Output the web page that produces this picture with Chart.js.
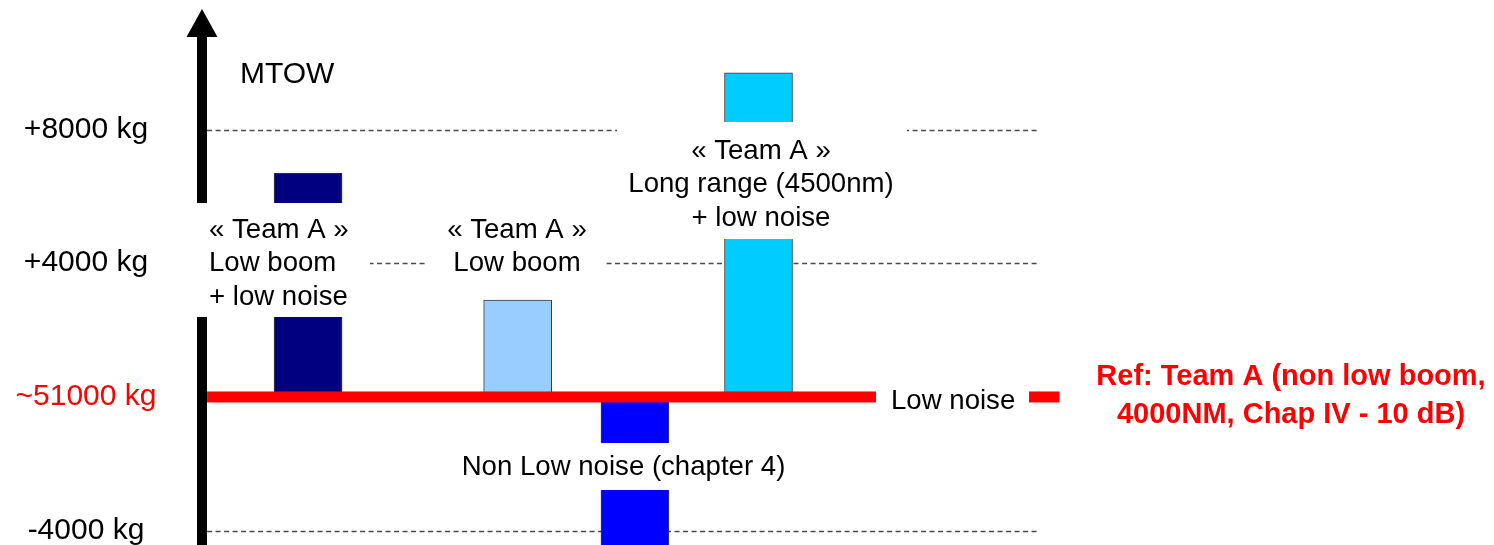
<!DOCTYPE html>
<html>
<head>
<meta charset="utf-8">
<script src="https://cdn.jsdelivr.net/npm/chart.js@4.4.0/dist/chart.umd.min.js"></script>
<style>
  html, body { margin: 0; padding: 0; background: #ffffff; overflow: hidden; }
  canvas { display: block; }
</style>
</head>
<body>
<canvas id="mtow" width="1494" height="545"></canvas>
<script>
// ---- Data: MTOW change (kg) against the ~51000 kg reference aircraft ----
const categories = [
  ['« Team A »', 'Low boom', '+ low noise'],
  ['« Team A »', 'Low boom'],
  ['Non Low noise (chapter 4)'],
  ['« Team A »', 'Long range (4500nm)', '+ low noise']
];
const mtowDelta = [6700, 2900, -5000, 9700];

const tickValues = [8000, 4000, 0, -4000];
const tickLabels = ['+8000 kg', '+4000 kg', '~51000 kg', '-4000 kg'];

const axisTitle = 'MTOW';
const refLineLabel = 'Low noise';
const refLabel = ['Ref: Team A (non low boom,', '4000NM, Chap IV - 10 dB)'];

// ---- Styling and layout ----
const barColors = ['#000080', '#99CCFF', '#0000FF', '#00CCFF'];
const RED = '#FF0000';
const FONT = '"Liberation Sans", Arial, Helvetica, sans-serif';
const NOTE_FONT = '27.6px ' + FONT;

// Column centres on a 0-100 horizontal track
const slotPos = [20.62, 34.65, 42.5, 50.77];
const trackSpan = { grid: [13.86, 69.48], ref: [13.86, 70.92] };

// Note blocks: anchor point (px), alignment and the white panel behind them
const noteLayout = [
  { x: 209,   y: 238,   align: 'left',   box: [186, 203, 370, 317] },
  { x: 517,   y: 238,   align: 'center', box: [428, 205, 605, 285] },
  { x: 623.5, y: 475,   align: 'center', box: [450, 443, 795, 490] },
  { x: 761,   y: 159,   align: 'center', box: [617, 122, 907, 239] }
];
const LINE_GAP = 33.4;

const overlay = {
  id: 'overlay',
  beforeDatasetsDraw(chart) {
    const { ctx, scales: { x, y } } = chart;
    ctx.save();
    ctx.strokeStyle = '#4a4a4a';
    ctx.lineWidth = 1.4;
    ctx.setLineDash([5, 3.5]);
    const x0 = x.getPixelForValue(trackSpan.grid[0]);
    const x1 = x.getPixelForValue(trackSpan.grid[1]);
    tickValues.forEach(v => {
      if (v === 0) return;
      const py = Math.round(y.getPixelForValue(v)) + 0.5;
      ctx.beginPath();
      ctx.moveTo(x0, py);
      ctx.lineTo(x1, py);
      ctx.stroke();
    });
    ctx.restore();
  },
  afterDatasetsDraw(chart) {
    const { ctx, scales: { x, y } } = chart;
    const bottom = chart.chartArea.bottom;
    ctx.save();

    // Vertical MTOW axis with arrow head
    const ax = 202;
    ctx.fillStyle = '#000000';
    ctx.fillRect(ax - 5, 36, 10, bottom - 36);
    ctx.beginPath();
    ctx.moveTo(ax, 9);
    ctx.lineTo(ax + 15.5, 37);
    ctx.lineTo(ax - 15.5, 37);
    ctx.closePath();
    ctx.fill();

    // Reference line at the ~51000 kg baseline
    const y0 = y.getPixelForValue(0);
    ctx.fillStyle = RED;
    const r0 = x.getPixelForValue(trackSpan.ref[0]);
    const r1 = x.getPixelForValue(trackSpan.ref[1]);
    ctx.fillRect(r0, y0 - 5.5, r1 - r0, 11);

    // "Low noise" sits on a white gap in the reference line
    ctx.fillStyle = '#ffffff';
    ctx.fillRect(876, y0 - 18, 153, 36);
    ctx.fillStyle = '#000000';
    ctx.font = NOTE_FONT;
    ctx.textAlign = 'left';
    ctx.textBaseline = 'alphabetic';
    ctx.fillText(refLineLabel, 891, y0 + 12.3);

    // Category notes on white panels
    categories.forEach((lines, i) => {
      const n = noteLayout[i];
      const [bx0, by0, bx1, by1] = n.box;
      ctx.fillStyle = '#ffffff';
      ctx.fillRect(bx0, by0, bx1 - bx0, by1 - by0);
      ctx.fillStyle = '#000000';
      ctx.font = NOTE_FONT;
      ctx.textAlign = n.align;
      lines.forEach((t, k) => ctx.fillText(t, n.x, n.y + k * LINE_GAP));
    });

    // Axis title
    ctx.font = '30px ' + FONT;
    ctx.textAlign = 'left';
    ctx.fillStyle = '#000000';
    ctx.fillText(axisTitle, 240, 83);

    // Value labels on the left
    ctx.textAlign = 'center';
    tickValues.forEach((v, i) => {
      ctx.fillStyle = v === 0 ? RED : '#000000';
      ctx.fillText(tickLabels[i], 86, y.getPixelForValue(v) + 8);
    });

    // Reference aircraft description
    ctx.font = 'bold 29px ' + FONT;
    ctx.fillStyle = RED;
    ctx.textAlign = 'center';
    refLabel.forEach((t, k) => ctx.fillText(t, 1291, 385 + k * 37.5));

    ctx.restore();
  }
};

new Chart(document.getElementById('mtow'), {
  type: 'bar',
  data: {
    datasets: [{
      data: mtowDelta.map((v, i) => ({ x: slotPos[i], y: [0, v] })),
      backgroundColor: barColors,
      borderColor: '#3c3c3c',
      borderWidth: 1,
      borderSkipped: false,
      barThickness: 68
    }]
  },
  options: {
    responsive: false,
    animation: false,
    devicePixelRatio: 1,
    layout: { padding: 0 },
    plugins: { legend: { display: false }, tooltip: { enabled: false } },
    scales: {
      x: { type: 'linear', display: false, offset: false, bounds: 'data', min: 0, max: 100 },
      y: { type: 'linear', display: false, bounds: 'data', min: -4430, max: 11880 }
    }
  },
  plugins: [overlay]
});
</script>
</body>
</html>
